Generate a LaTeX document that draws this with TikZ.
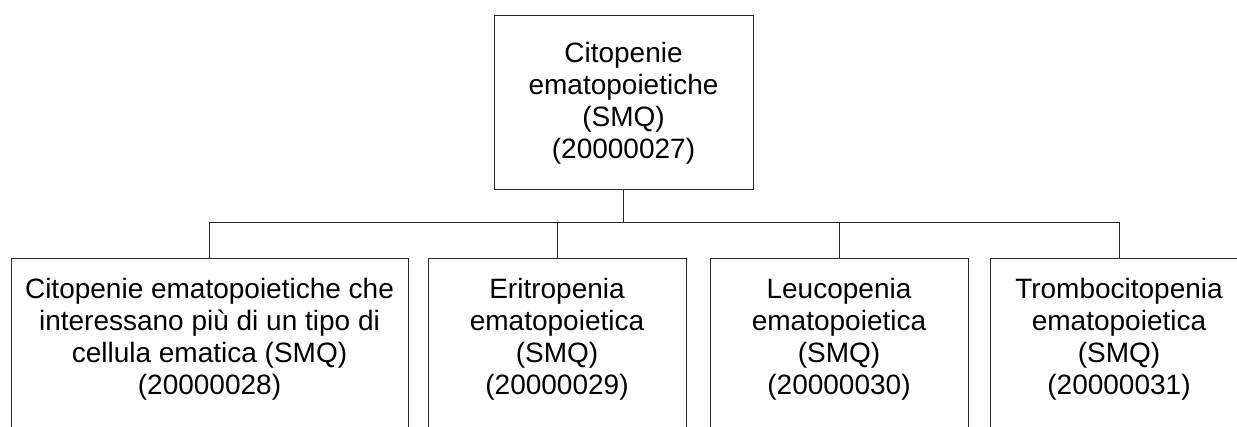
\documentclass[tikz,border=0pt]{standalone}
\usepackage{fontspec}
\setmainfont{Liberation Sans}
\begin{document}
\begin{tikzpicture}[x=1pt,y=1pt,
  box/.style={draw=black!85, line width=1pt, rectangle, align=center, inner sep=0pt,
    font=\fontsize{28}{32}\selectfont},
  conn/.style={draw=black!85, line width=1pt}]
\useasboundingbox (0,0) rectangle (1237,-427);
\clip (0,0) rectangle (1237,-427);
\node[box, minimum width=259, minimum height=174] (top) at (623.5,-103)
  {Citopenie\\ematopoietiche\\(SMQ)\\(20000027)};
\node[box, anchor=north, minimum width=397, minimum height=172] (b1) at (209.5,-258)
  {Citopenie ematopoietiche che\\interessano più di un tipo di\\cellula ematica (SMQ)\\(20000028)\\[-16pt]\mbox{}};
\node[box, anchor=north, minimum width=258, minimum height=172] (b2) at (557,-258)
  {Eritropenia\\ematopoietica\\(SMQ)\\(20000029)\\[-16pt]\mbox{}};
\node[box, anchor=north, minimum width=258, minimum height=172] (b3) at (839,-258)
  {Leucopenia\\ematopoietica\\(SMQ)\\(20000030)\\[-16pt]\mbox{}};
\node[box, anchor=north, minimum width=258, minimum height=172] (b4) at (1119,-258)
  {Trombocitopenia\\ematopoietica\\(SMQ)\\(20000031)\\[-16pt]\mbox{}};
\coordinate (bus) at ([yshift=-32]top.south);
\draw[conn] (top.south) -- (bus);
\draw[conn] (bus) -| (b1.north);
\draw[conn] (bus) -| (b2.north);
\draw[conn] (bus) -| (b3.north);
\draw[conn] (bus) -| (b4.north);
\end{tikzpicture}
\end{document}
